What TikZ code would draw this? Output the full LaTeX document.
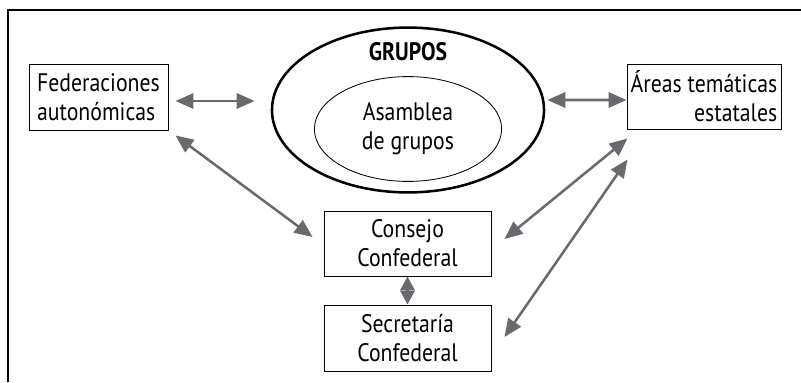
\documentclass[tikz,border=0pt]{standalone}
\usepackage{fontspec}
\setmainfont{PT Sans}[FakeStretch=0.86]
\usetikzlibrary{shapes,arrows,positioning,calc,arrows.meta}
\definecolor{arrgray}{RGB}{105,106,110}

\begin{document}
\begin{tikzpicture}[x=0.025cm, y=-0.025cm,
	arr/.style={{Triangle[length=0.45cm,width=0.38cm]}-{Triangle[length=0.45cm,width=0.38cm]},line width=1.8pt,draw=arrgray},
	sarr/.style={{Triangle[length=0.35cm,width=0.36cm]}-{Triangle[length=0.35cm,width=0.36cm]},line width=1.8pt,draw=arrgray},
	box/.style={rectangle,draw=black,line width=0.6pt,inner sep=0pt},
	font=\fontsize{18}{20.5}\selectfont]

    \useasboundingbox (0,0) rectangle (801,382);
    \draw[line width=1.6pt] (8,382) -- (8,10) -- (801,10);

    \node (Fed) at (98.5,97) [box,minimum width=3.475cm,minimum height=1.65cm,align=left] {Federaciones\\autonómicas};
    \node (Areas) at (704,96.5) [box,minimum width=3.85cm,minimum height=1.625cm,align=right] {Áreas temáticas\\estatales};

    \node (Grupos) at (408,110) [ellipse,draw=black,line width=1.8pt,minimum width=6.8cm,minimum height=4.12cm,inner sep=0pt] {};
    \node (GrLabel) at (408,52) {\fontsize{18}{20}\selectfont\bfseries GRUPOS};
    \node (Asamblea) at (408,129) [ellipse,draw=black,line width=0.6pt,minimum width=4.68cm,minimum height=2.62cm,inner sep=0pt,align=center] {Asamblea\\de grupos};

    \node (Consejo) at (407.5,243.5) [box,minimum width=4.175cm,minimum height=1.625cm,align=center] {Consejo\\Confederal};
    \node (Secret) at (407.5,338) [box,minimum width=4.175cm,minimum height=1.65cm,align=center] {Secretaría\\Confederal};

    \draw [arr] ($(Fed.east)+(7,4)$) -- ($(Grupos.west)+(-16,-9)$);
    \draw [arr] ($(Grupos.east)+(2,-10)$) -- ($(Areas.west)+(0,3.5)$);
    \draw [arr] ($(Fed.south east)+(7,5)$) -- ($(Consejo.west)+(-11,-6.5)$);
    \draw [arr] ($(Areas.south west)+(1,9)$) -- ($(Consejo.east)+(13,-4.5)$);
    \draw [arr] ($(Areas.south west)+(1,30)$) -- ($(Secret.east)+(13,-1)$);
    \draw [sarr] (Consejo.south) -- (Secret.north);

\end{tikzpicture}
\end{document}
